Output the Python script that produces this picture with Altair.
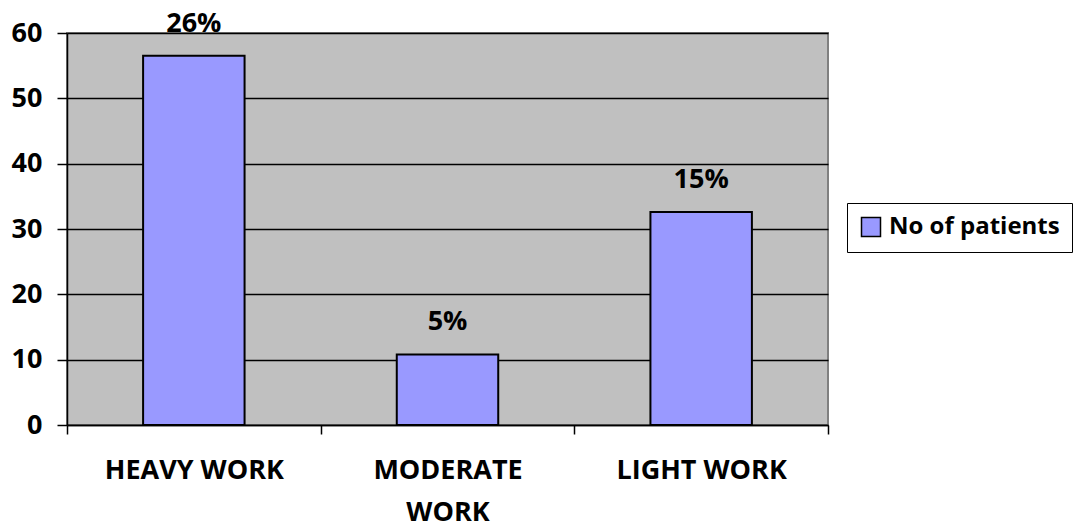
import altair as alt
import pandas as pd

categories = ["HEAVY WORK", "MODERATE WORK", "LIGHT WORK"]
patients = [56.5, 10.8, 32.6]
pct_labels = ["26%", "5%", "15%"]
series_name = "No of patients"

df = pd.DataFrame({"cat": categories, "val": patients, "pct": pct_labels,
                   "series": [series_name] * 3})

FONT = "Open Sans"
FS = 27

x = alt.X("cat:N", sort=categories, title=None,
          scale=alt.Scale(paddingInner=0, paddingOuter=0),
          axis=alt.Axis(labelAngle=0, labelFontSize=FS, labelFontWeight="bold",
                        labelFont=FONT, labelColor="black", tickBand="extent",
                        tickSize=9, tickColor="black", tickWidth=1.5,
                        domainColor="black", domainWidth=1.5, labelPadding=23,
                        labelBaseline="top", labelLineHeight=42,
                        labelExpr="datum.label == 'MODERATE WORK' ? ['MODERATE', 'WORK'] : datum.label"))

y = alt.Y("val:Q", title=None,
          scale=alt.Scale(domain=[0, 60], nice=False),
          axis=alt.Axis(values=[0, 10, 20, 30, 40, 50, 60], labelFontSize=FS,
                        labelFontWeight="bold", labelFont=FONT, labelColor="black",
                        tickSize=10, tickColor="black", tickWidth=1.5,
                        domainColor="black", domainWidth=1.5, labelPadding=15,
                        grid=True, gridColor="black", gridWidth=1.5))

bars = alt.Chart(df).mark_bar(stroke="black", strokeWidth=2,
                              width=alt.RelativeBandSize(0.4)).encode(
    x=x, y=y,
    fill=alt.Fill("series:N", title=None,
                  scale=alt.Scale(domain=[series_name], range=["#9999FF"]),
                  legend=alt.Legend(orient="none", legendX=780, legendY=170,
                                    symbolType="square", symbolSize=361,
                                    symbolStrokeColor="black", symbolStrokeWidth=1.5,
                                    labelFontSize=24, labelFontWeight="bold",
                                    labelFont=FONT, labelColor="black",
                                    labelOffset=6, labelLimit=400,
                                    strokeColor="black", padding=12,
                                    fillColor="white"))
)

text = alt.Chart(df).mark_text(baseline="bottom", dy=-18, fontSize=FS,
                               fontWeight="bold", font=FONT, color="black").encode(
    x=alt.X("cat:N", sort=categories), y="val:Q", text="pct:N")

chart = (bars + text).properties(
    width=761, height=392,
    autosize=alt.AutoSizeParams(type="none"),
    padding={"left": 67, "top": 33, "right": 261, "bottom": 105},
    background="white"
).configure_view(fill="#C0C0C0", stroke="#808080", strokeWidth=2)

chart.save("out.html", embed_options={"renderer": "svg", "actions": False})
